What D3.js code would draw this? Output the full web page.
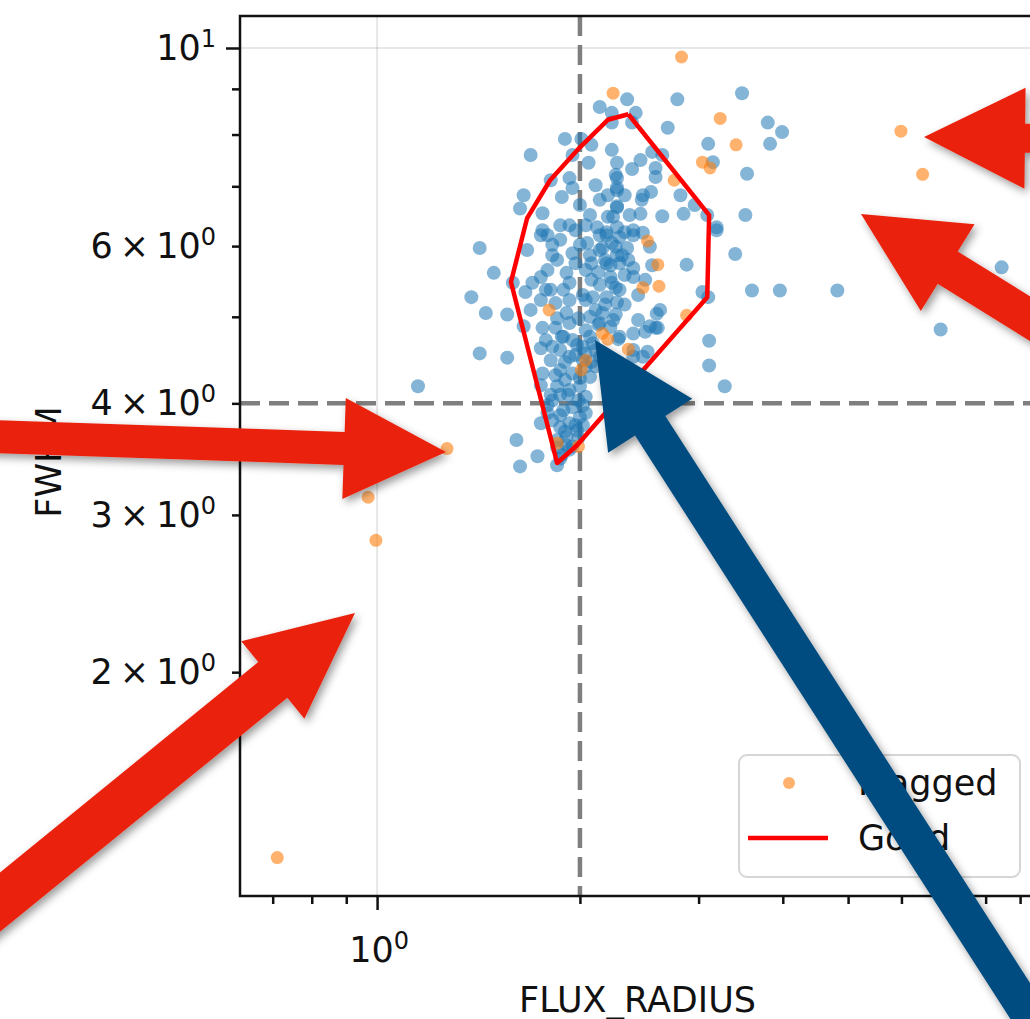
<!DOCTYPE html>
<html>
<head>
<meta charset="utf-8">
<script src="https://cdn.jsdelivr.net/npm/d3@7"></script>
<style>
  body { margin: 0; background: #fff; }
  text { font-family: "DejaVu Sans", sans-serif; fill: #111; }
</style>
</head>
<body>
<svg id="chart" width="1030" height="1019"></svg>
<script>
// good sources: [FLUX_RADIUS, FWHM]
const goodPts = [
  [2.14,8.59],[2.23,8.46],[2.23,8.25],[1.90,7.91],[2.01,7.91],[2.08,7.79],[1.69,7.59],[2.23,7.69],[1.95,7.59],[2.06,7.44],
  [2.27,7.44],[2.26,7.21],[1.81,7.11],[1.93,7.15],[1.95,6.97],[1.88,6.81],[1.65,6.84],[1.63,6.61],[1.76,6.53],[2.20,6.84],
  [2.27,6.93],[2.27,6.63],[2.24,6.47],[1.93,6.33],[2.12,6.30],[1.76,6.25],[2.19,6.22],[2.27,6.30],[2.35,8.76],[2.79,8.76],
  [3.48,8.90],[2.42,8.46],[2.39,8.25],[2.70,8.14],[3.80,8.25],[3.99,8.05],[3.10,7.81],[3.83,7.81],[2.65,7.59],[3.15,7.45],
  [2.46,7.49],[2.56,7.65],[2.39,7.32],[2.59,7.34],[2.27,7.15],[2.59,7.17],[3.54,7.23],[2.27,6.98],[2.48,6.84],[2.55,6.90],
  [2.82,6.84],[2.47,6.76],[2.27,6.65],[2.46,6.52],[2.65,6.48],[2.85,6.52],[2.96,6.67],[2.20,6.47],[3.52,6.50],[3.19,6.30],
  [2.33,6.22],[2.40,6.25],[3.09,6.50],
  [1.42,5.97],[1.49,5.60],[1.38,5.26],[1.45,5.05],[1.56,5.03],[1.42,4.55],[1.56,4.50],[1.65,4.88],[1.59,5.46],[1.67,5.94],
  [1.75,6.17],[1.79,6.17],[1.82,6.02],[1.82,5.86],[1.95,5.89],[2.05,6.05],[2.14,5.94],[2.14,6.17],[2.23,6.05],[2.27,5.86],
  [2.18,5.79],[2.08,5.74],[1.79,5.64],[1.75,5.54],[1.70,5.46],[1.66,5.33],[1.91,5.60],[1.93,5.46],[1.89,5.36],[2.08,5.50],
  [2.14,5.43],[2.23,5.46],[2.09,5.26],[2.19,5.26],[2.27,5.19],[1.93,5.22],[1.84,5.18],[1.91,5.05],[1.76,4.86],[1.84,4.86],
  [1.93,4.92],[2.07,5.00],[2.16,5.05],[1.88,4.75],[1.95,4.71],[2.04,4.83],[2.09,4.67],[1.87,4.59],[2.04,4.55],[1.75,4.61],
  [2.14,4.51],[2.19,6.17],[2.29,6.14],[2.40,6.17],[2.48,6.21],[2.16,5.97],[2.26,5.99],[2.35,5.97],[2.54,5.99],[3.19,6.25],
  [3.40,5.88],[2.88,5.72],[2.19,5.74],[2.29,5.74],[2.40,5.67],[2.22,5.54],[2.33,5.57],[2.40,5.54],[2.26,5.39],[2.44,5.29],
  [3.04,5.33],[3.10,5.26],[3.60,5.35],[3.96,5.35],[4.82,5.35],[8.45,5.68],[6.86,4.84],[2.63,5.09],[2.44,4.96],[2.24,4.96],
  [2.59,4.86],[2.50,4.81],[2.40,4.79],[2.28,4.72],[3.11,4.70],[2.52,4.57],[2.40,4.59],[3.11,4.41],[3.28,4.18],[1.15,4.18],
  [1.61,3.64],[1.73,3.49],[1.63,3.40],[1.85,3.41],[1.87,3.47],[1.78,4.71],[1.82,4.63],[1.89,4.75],[1.81,4.47],[1.93,4.51],
  [2.02,4.63],[2.07,4.75],[2.14,4.92],[2.22,4.87],[2.29,4.75],[2.54,4.88],[2.60,5.04],[2.40,4.51],[2.48,4.51],[2.61,4.86],
  [1.87,4.36],[1.95,4.32],[2.04,4.40],[1.85,4.18],[1.93,4.14],[2.00,4.18],[2.04,4.07],[1.82,4.03],[1.89,3.93],[1.95,3.96],
  [1.87,3.76],[1.93,3.80],[2.00,3.86],[1.85,3.64],[1.91,3.67],[1.95,3.58],[1.88,3.50],[2.04,3.90],[1.75,3.80],[1.79,3.90],
  [2.07,4.28],[2.11,4.40],[1.76,4.32],[1.75,4.19],[1.90,4.25],[1.99,4.03],[1.82,3.83],[1.98,3.73],[1.91,3.59],[1.81,4.09],
  [2.02,4.47],[1.87,4.09],
  [2.14,6.76],[2.07,6.50],[2.00,6.67],[1.87,6.33],[2.11,7.02],[2.33,6.84],[2.37,6.50],[2.04,5.64],[1.97,5.74],[2.02,5.29],
  [2.11,5.09],[2.33,5.16],[2.50,5.50],[2.29,5.36],[1.75,5.22],[1.69,5.09],[1.78,5.36],[1.85,5.79],[1.97,6.25],[2.36,5.79],
  [2.56,5.71],
  [1.97,4.53],[2.08,4.45],[1.84,4.30],[2.00,4.27],[1.92,4.09],[2.02,3.98],[1.87,3.88],[1.97,3.78],[1.90,3.72],[1.99,3.66],
  [1.93,3.55],[1.85,3.57],[2.02,3.78],[1.79,3.98],[1.90,4.45],[2.11,4.59],[1.98,4.65],
  [2.04,5.22],[2.13,5.61],[2.22,5.71],[2.07,5.86],[2.00,6.02],[1.99,4.98],[2.18,5.16],[2.26,5.03],[2.13,4.90],[1.85,4.98],
  [1.81,5.36],[2.31,5.86],[2.04,6.33],[1.87,6.10]
];

// flagged sources
const flaggedPts = [
  [2.83,9.77],[2.24,8.90],[3.23,8.34],[3.41,7.79],[3.04,7.45],[3.12,7.34],[2.76,7.11],[2.52,6.08],[2.61,5.72],[2.48,5.39],
  [2.62,5.41],[2.88,5.02],[1.80,5.09],[2.16,4.79],[2.20,4.72],[2.36,4.60],[2.04,4.47],[2.01,4.36],[1.85,3.61],[1.99,3.58],
  [1.27,3.56],[0.97,3.14],[0.996,2.81],[0.711,1.24],[5.99,8.07],[6.45,7.22]
];

// "Good" region outline
const hullX = [2.36, 2.20, 2.00, 1.806, 1.67, 1.58, 1.85, 1.98, 3.09, 3.11, 2.36];
const hullY = [8.43, 8.31, 7.74, 7.11, 6.45, 5.47, 3.43, 3.59, 5.26, 6.50, 8.43];

// cut lines
const cutRadius = 2;
const cutFwhm = 4;

// ticks
const xMajorTicks = [1];
const xMinorTicks = [0.7, 0.8, 0.9, 2, 3, 4, 5, 6, 7, 8, 9];
const xTickLabels = [[1, "", "10", "0"]];
const yMajorTicks = [10];
const yMinorTicks = [2, 3, 4, 5, 6, 7, 8, 9];
const yTickLabels = [[10, "", "10", "1"], [6, "6", "10", "0"], [4, "4", "10", "0"], [3, "3", "10", "0"], [2, "2", "10", "0"]];

const pLeft = 240, pTop = 16, pRight = 1035, pBottom = 896;

const svg = d3.select("#chart");

const x = d3.scaleLog().domain([0.626, 9.47]).range([pLeft, pRight]);
const y = d3.scaleLog().domain([1.123, 10.86]).range([pBottom, pTop]);

const defs = svg.append("defs");
defs.append("clipPath").attr("id", "plotclip")
  .append("rect").attr("x", pLeft).attr("y", pTop).attr("width", pRight - pLeft).attr("height", pBottom - pTop);

const shadow = defs.append("filter").attr("id", "shadow")
  .attr("x", "-20%").attr("y", "-20%").attr("width", "140%").attr("height", "140%");
shadow.append("feDropShadow").attr("dx", 3).attr("dy", 4).attr("stdDeviation", 4)
  .attr("flood-color", "#000").attr("flood-opacity", 0.4);

const plot = svg.append("g").attr("clip-path", "url(#plotclip)");

// grid at major ticks
plot.selectAll(".vgrid").data(xMajorTicks).enter().append("line")
  .attr("x1", d => x(d)).attr("x2", d => x(d)).attr("y1", pTop).attr("y2", pBottom)
  .attr("stroke", "#b0b0b0").attr("stroke-opacity", 0.3).attr("stroke-width", 2);
plot.selectAll(".hgrid").data(yMajorTicks).enter().append("line")
  .attr("y1", d => y(d)).attr("y2", d => y(d)).attr("x1", pLeft).attr("x2", pRight)
  .attr("stroke", "#b0b0b0").attr("stroke-opacity", 0.3).attr("stroke-width", 2);

// dashed cut lines
plot.append("line")
  .attr("x1", x(cutRadius)).attr("x2", x(cutRadius)).attr("y1", pTop).attr("y2", pBottom)
  .attr("stroke", "#7f7f7f").attr("stroke-width", 4.5).attr("stroke-dasharray", "20,9");
plot.append("line")
  .attr("x1", pLeft).attr("x2", pRight).attr("y1", y(cutFwhm)).attr("y2", y(cutFwhm))
  .attr("stroke", "#7f7f7f").attr("stroke-width", 4.5).attr("stroke-dasharray", "20,9");

// points
plot.selectAll(".good").data(goodPts).enter().append("circle")
  .attr("cx", d => x(d[0])).attr("cy", d => y(d[1])).attr("r", 7)
  .attr("fill", "#1f77b4").attr("fill-opacity", 0.55);
plot.selectAll(".flag").data(flaggedPts).enter().append("circle")
  .attr("cx", d => x(d[0])).attr("cy", d => y(d[1])).attr("r", 6.5)
  .attr("fill", "#ff7f0e").attr("fill-opacity", 0.6);

// good outline
const line = d3.line().x(d => x(d[0])).y(d => y(d[1]));
plot.append("path")
  .attr("d", line(hullX.map((v, i) => [v, hullY[i]])))
  .attr("fill", "none").attr("stroke", "#ff0000").attr("stroke-width", 4.5).attr("stroke-linejoin", "round");

// axes
function styleAxis(g) {
  g.select(".domain").remove();
  g.selectAll(".tick line").attr("stroke", "#111").attr("stroke-width", 2.5);
}
svg.append("g").attr("transform", `translate(0,${pBottom})`)
  .call(d3.axisBottom(x).tickValues(xMinorTicks).tickSize(8).tickFormat("")).call(styleAxis);
svg.append("g").attr("transform", `translate(0,${pBottom})`)
  .call(d3.axisBottom(x).tickValues(xMajorTicks).tickSize(14).tickFormat("")).call(styleAxis);
svg.append("g").attr("transform", `translate(${pLeft},0)`)
  .call(d3.axisLeft(y).tickValues(yMinorTicks).tickSize(8).tickFormat("")).call(styleAxis);
svg.append("g").attr("transform", `translate(${pLeft},0)`)
  .call(d3.axisLeft(y).tickValues(yMajorTicks).tickSize(14).tickFormat("")).call(styleAxis);

// spines
svg.append("path")
  .attr("d", `M${pRight},${pTop}H${pLeft}V${pBottom}H${pRight}`)
  .attr("fill", "none").attr("stroke", "#111").attr("stroke-width", 2.5);

// tick labels with superscripts
function mathLabel(sel, d) {
  const t = sel.append("text").attr("font-size", 35);
  t.append("tspan").text(d[1] ? d[1] + "\u2009\u00d7\u2009" + d[2] : d[2]);
  t.append("tspan").attr("font-size", 24).attr("dy", -13).text(d[3]);
  return t;
}
xTickLabels.forEach(d => {
  mathLabel(svg, d).attr("x", x(d[0]) + 2).attr("y", 962).attr("text-anchor", "middle");
});
yTickLabels.forEach(d => {
  mathLabel(svg, d).attr("x", 216).attr("y", y(d[0]) + 12).attr("text-anchor", "end");
});

// axis labels
svg.append("text").attr("x", (pLeft + pRight) / 2).attr("y", 1012).attr("text-anchor", "middle")
  .attr("font-size", 35).text("FLUX_RADIUS");
svg.append("text").attr("transform", `translate(61,${(pTop + pBottom) / 2 + 6}) rotate(-90)`)
  .attr("text-anchor", "middle").attr("font-size", 35).text("FWHM");

// legend
const lg = svg.append("g");
lg.append("rect").attr("x", 739).attr("y", 755).attr("width", 281).attr("height", 122).attr("rx", 8)
  .attr("fill", "#fff").attr("fill-opacity", 0.8).attr("stroke", "#cccccc").attr("stroke-opacity", 0.8).attr("stroke-width", 2);
lg.append("circle").attr("cx", 789).attr("cy", 783).attr("r", 6).attr("fill", "#ff7f0e").attr("fill-opacity", 0.6);
lg.append("text").attr("x", 858).attr("y", 795).attr("font-size", 35).text("Flagged");
lg.append("line").attr("x1", 748).attr("x2", 828).attr("y1", 838).attr("y2", 838)
  .attr("stroke", "#ff0000").attr("stroke-width", 4.5);
lg.append("text").attr("x", 858).attr("y", 850).attr("font-size", 35).text("Good");

// annotation arrows drawn over the figure
const arrows = [
  { tip: [924, 137], tail: [1100, 139], headLen: 101, headW: 101, shaftW: 29, color: "#ea230e" },
  { tip: [861, 214], tail: [1150, 393], headLen: 102, headW: 102, shaftW: 38, color: "#ea230e" },
  { tip: [446, 452], tail: [-20, 436], headLen: 102, headW: 101, shaftW: 33, color: "#ea230e" },
  { tip: [355, 613], tail: [-33, 929], headLen: 106, headW: 100, shaftW: 46, color: "#ea230e" },
  { tip: [595, 340], tail: [1082, 1097], headLen: 102, headW: 100, shaftW: 36, color: "#004c7f" }
];
function arrowPts(a) {
  const dx = a.tail[0] - a.tip[0], dy = a.tail[1] - a.tip[1], L = Math.hypot(dx, dy);
  const ux = dx / L, uy = dy / L, px = -uy, py = ux;
  const bx = a.tip[0] + ux * a.headLen, by = a.tip[1] + uy * a.headLen;
  const h = a.headW / 2, s = a.shaftW / 2;
  return [
    a.tip,
    [bx + px * h, by + py * h],
    [bx + px * s, by + py * s],
    [a.tail[0] + px * s, a.tail[1] + py * s],
    [a.tail[0] - px * s, a.tail[1] - py * s],
    [bx - px * s, by - py * s],
    [bx - px * h, by - py * h]
  ];
}
svg.selectAll(".arrow").data(arrows).enter().append("polygon")
  .attr("points", d => arrowPts(d).map(p => p.join(",")).join(" "))
  .attr("fill", d => d.color).attr("filter", "url(#shadow)");
</script>
</body>
</html>
